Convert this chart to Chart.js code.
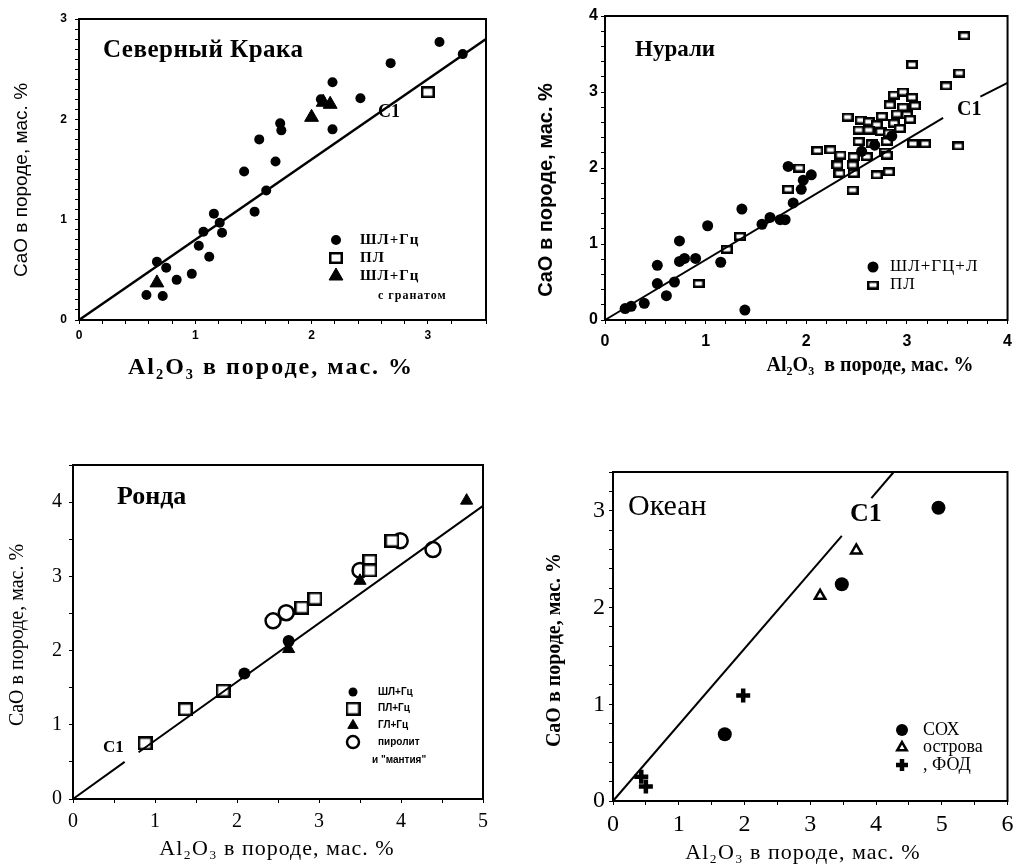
<!DOCTYPE html>
<html>
<head>
<meta charset="utf-8">
<script src="https://cdn.jsdelivr.net/npm/chart.js@4.4.1/dist/chart.umd.min.js"></script>
<style>
body{margin:0;background:#fff;width:1022px;height:867px;overflow:hidden;position:relative}
.p{position:absolute}
</style>
</head>
<body>
<div class="p" style="left:0;top:0;width:495px;height:380px"><canvas id="kraka"></canvas></div>
<div class="p" style="left:530px;top:0;width:490px;height:375px"><canvas id="nurali"></canvas></div>
<div class="p" style="left:0;top:440px;width:495px;height:426px"><canvas id="ronda"></canvas></div>
<div class="p" style="left:545px;top:440px;width:474px;height:427px"><canvas id="ocean"></canvas></div>
<script>
// ------------------------------
// Data  (x = Al2O3, y = CaO, мас. %)
// ------------------------------

// Северный Крака
const krakaShlGc = [[0.58,0.25],[0.72,0.24],[0.67,0.58],[0.75,0.52],[0.84,0.40],[0.97,0.46],[1.03,0.74],[1.12,0.63],[1.07,0.88],[1.16,1.06],[1.21,0.97],[1.23,0.87],[1.42,1.48],[1.51,1.08],[1.55,1.80],[1.61,1.29],[1.69,1.58],[1.73,1.96],[1.74,1.89],[2.08,2.20],[2.18,2.37],[2.18,1.90],[2.42,2.21],[2.68,2.56],[3.10,2.77],[3.30,2.65]];
const krakaPl = [[3.0,2.27]];
const krakaShlGcGrt = [[0.67,0.37],[2.0,2.02],[2.1,2.17],[2.16,2.15]];
const krakaC1 = [[0,0],[3.5,2.8]];

// Нурали
const nuraliShl = [[0.20,0.15],[0.26,0.18],[0.39,0.22],[0.61,0.32],[0.52,0.48],[0.69,0.50],[0.52,0.72],[0.74,0.77],[0.79,0.81],[0.90,0.81],[0.74,1.04],[1.02,1.24],[1.15,0.76],[1.36,1.46],[1.39,0.13],[1.56,1.26],[1.64,1.35],[1.74,1.32],[1.79,1.32],[1.87,1.54],[1.82,2.02],[1.95,1.72],[1.97,1.84],[2.05,1.91],[2.55,2.22],[2.68,2.30],[2.85,2.42]];
const nuraliPl = [[0.93,0.48],[1.21,0.93],[1.34,1.10],[1.82,1.72],[1.93,2.00],[2.11,2.23],[2.24,2.24],[2.41,2.67],[2.46,1.71],[2.70,1.91],[2.82,1.95],[3.06,2.32],[3.18,2.32],[3.51,2.29],[3.39,3.08],[3.52,3.25],[3.05,3.36],[3.57,3.74],[2.87,2.96],[2.96,3.00],[3.05,2.93],[2.83,2.83],[2.96,2.80],[3.08,2.82],[2.90,2.71],[3.00,2.70],[3.03,2.64],[2.54,2.63],[2.62,2.61],[2.75,2.68],[2.70,2.57],[2.87,2.59],[2.93,2.52],[2.52,2.50],[2.62,2.50],[2.74,2.48],[2.82,2.46],[2.52,2.35],[2.65,2.32],[2.80,2.35],[2.34,2.17],[2.47,2.15],[2.60,2.15],[2.78,2.21],[2.31,2.04],[2.46,2.04],[2.33,1.93],[2.47,1.93],[2.80,2.17]];
const nuraliC1a = [[0,0],[3.36,2.66]];
const nuraliC1b = [[3.73,2.94],[4.0,3.12]];

// Ронда
const rondaShlGc = [[2.09,1.69],[2.63,2.13]];
const rondaPlGc = [[0.88,0.75],[1.37,1.21],[1.83,1.46],[2.79,2.58],[2.95,2.70],[3.62,3.21],[3.62,3.08],[3.89,3.48]];
const rondaGlGc = [[0.90,0.72],[2.63,2.02],[3.50,2.94],[4.80,4.02]];
const rondaPyrolite = [[2.44,2.40],[2.60,2.51],[3.50,3.08],[3.99,3.48],[4.39,3.36]];
const rondaC1a = [[0,0],[0.63,0.5]];
const rondaC1b = [[0.8,0.63],[5,3.95]];

// Океан
const oceanSox = [[1.70,0.69],[3.48,2.24],[4.95,3.03]];
const oceanIslands = [[3.15,2.12],[3.70,2.59]];
const oceanFod = [[0.43,0.25],[0.50,0.15],[1.98,1.09]];
const oceanC1a = [[0,0],[3.48,2.74]];
const oceanC1b = [[3.93,3.13],[4.27,3.4]];

const xTitle = "Al\u2082O\u2083 в породе, мас. %";
const xTitleWide = "Al\u2082O\u2083  в породе, мас. %";
const yTitle = "CaO в породе, мас. %";

// ------------------------------
// Helpers
// ------------------------------

const SERIF = '"Liberation Serif", "DejaVu Serif", serif';
const SANS = '"Liberation Sans", Arial, sans-serif';

function pts(arr) {
    return arr.map(p => ({ x: p[0], y: p[1] }));
}

// open box marker (wider than tall in the scan)
function boxImg(w, h, lw) {
    const c = document.createElement("canvas");
    c.width = w; c.height = h;
    const g = c.getContext("2d");
    g.fillStyle = "#fff";
    g.fillRect(0, 0, w, h);
    g.strokeStyle = "#000";
    g.lineWidth = lw;
    g.strokeRect(lw / 2, lw / 2, w - lw, h - lw);
    return c;
}

function dots(label, arr, style) {
    return Object.assign({ label: label, data: pts(arr), showLine: false }, style);
}

function c1(arr, w) {
    return { data: pts(arr), showLine: true, borderColor: "#000", borderWidth: w,
             pointRadius: 0, fill: false, clip: false };
}

const filled = r => ({ pointStyle: "circle", pointRadius: r, backgroundColor: "#000", borderColor: "#000", borderWidth: 0 });
const openCircle = (r, w) => ({ pointStyle: "circle", pointRadius: r, backgroundColor: "#fff", borderColor: "#000", borderWidth: w });
const triFilled = r => ({ pointStyle: "triangle", pointRadius: r, backgroundColor: "#000", borderColor: "#000", borderWidth: 1 });
const triOpen = (r, w) => ({ pointStyle: "triangle", pointRadius: r, backgroundColor: "#fff", borderColor: "#000", borderWidth: w });
const box = (w, h, lw) => ({ pointStyle: boxImg(w, h, lw), pointRadius: Math.max(w, h) / 2, backgroundColor: "#fff", borderColor: "#000", borderWidth: 0 });
const cross = (r, w) => ({ pointStyle: "cross", pointRadius: r, backgroundColor: "#000", borderColor: "#000", borderWidth: w });

function axis(min, max, step, size, tickFont, pad) {
    return {
        type: "linear", min: min, max: max,
        afterFit: s => { if (s.isHorizontal()) s.height = size; else s.width = size; },
        ticks: {
            stepSize: step, autoSkip: false, maxTicksLimit: 200, maxRotation: 0,
            color: "#000", font: tickFont, padding: pad,
            callback: v => Math.abs(v - Math.round(v)) < 1e-6 ? Math.round(v) : ""
        },
        grid: { drawOnChartArea: false, color: "#000", tickLength: 4, lineWidth: 1 },
        border: { color: "#000", width: 2 }
    };
}

// ------------------------------
// Frame, labels and legend inside the plot
// ------------------------------

const panelDecor = {
    id: "panelDecor",
    afterDraw(chart, args, o) {
        const ctx = chart.ctx, a = chart.chartArea;
        ctx.save();
        ctx.strokeStyle = "#000";
        ctx.lineWidth = 2;
        ctx.strokeRect(a.left, a.top, a.right - a.left, a.bottom - a.top);

        ctx.fillStyle = "#000";
        ctx.textBaseline = "middle";
        o.texts.forEach(t => {
            ctx.save();
            ctx.font = t.font;
            ctx.letterSpacing = (t.ls || 0) + "px";
            ctx.textAlign = t.align || "left";
            ctx.translate(a.left + t.x, a.top + t.y);
            if (t.rot) ctx.rotate(-Math.PI / 2);
            ctx.fillText(t.text, 0, 0);
            ctx.restore();
        });

        const L = o.legend;
        let row = 0;
        chart.data.datasets.forEach(ds => {
            if (!ds.label) return;
            const y = a.top + L.y + row * L.row;
            ctx.fillStyle = ds.backgroundColor;
            ctx.strokeStyle = ds.borderColor;
            ctx.lineWidth = ds.borderWidth;
            Chart.helpers.drawPoint(ctx, {
                pointStyle: ds.pointStyle, radius: ds.legendRadius || ds.pointRadius,
                borderWidth: ds.borderWidth, rotation: 0
            }, a.left + L.sx, y);
            ctx.fillStyle = "#000";
            ctx.font = L.font;
            ctx.letterSpacing = (L.ls || 0) + "px";
            ctx.textAlign = "left";
            ctx.fillText(ds.label, a.left + L.tx, y);
            row++;
        });
        ctx.restore();
    }
};

function panel(id, cfg) {
    return new Chart(document.getElementById(id), {
        type: "scatter",
        data: { datasets: cfg.datasets },
        options: {
            responsive: true,
            maintainAspectRatio: false,
            animation: false,
            events: [],
            layout: { padding: { top: cfg.padTop, right: cfg.padRight, left: 0, bottom: 0 } },
            plugins: { legend: { display: false }, tooltip: { enabled: false }, panelDecor: cfg.decor },
            scales: { x: cfg.x, y: cfg.y }
        },
        plugins: [panelDecor]
    });
}

// ------------------------------
// Северный Крака
// ------------------------------

panel("kraka", {
    padTop: 19, padRight: 5,
    x: axis(0, 3.5, 0.2, 60, { family: SANS, size: 12, weight: "bold" }, 4),
    y: axis(0, 3, 0.1, 79, { family: SANS, size: 12, weight: "bold" }, 8),
    datasets: [
        c1(krakaC1, 2.5),
        dots("ШЛ+Гц", krakaShlGc, filled(5)),
        dots("ПЛ", krakaPl, box(14, 12, 2.5)),
        dots("ШЛ+Гц", krakaShlGcGrt, triFilled(8))
    ],
    decor: {
        texts: [
            { text: "Северный Крака", x: 24, y: 32, font: "bold 25px " + SERIF, ls: 0.5 },
            { text: "C1", x: 299, y: 93, font: "bold 18px " + SERIF },
            { text: "с гранатом", x: 299, y: 277, font: "bold 12px " + SERIF, ls: 1 },
            { text: yTitle, x: -57, y: 161, rot: true, align: "center", font: "19px " + SANS },
            { text: xTitle, x: 192, y: 349, align: "center", font: "bold 24px " + SERIF, ls: 2 }
        ],
        legend: { sx: 257, tx: 281, y: 221, row: 18, font: "bold 15px " + SERIF, ls: 1 }
    }
});

// ------------------------------
// Нурали
// ------------------------------

panel("nurali", {
    padTop: 16, padRight: 8,
    x: axis(0, 4, 0.2, 55, { family: SANS, size: 16, weight: "bold" }, 8),
    y: axis(0, 4, 0.2, 75, { family: SANS, size: 16, weight: "bold" }, 3),
    datasets: [
        c1(nuraliC1a, 2),
        c1(nuraliC1b, 2),
        dots("ШЛ+ГЦ+Л", nuraliShl, filled(5.5)),
        dots("ПЛ", nuraliPl, box(12, 9, 2.5))
    ],
    decor: {
        texts: [
            { text: "Нурали", x: 30, y: 34, font: "bold 23px " + SERIF },
            { text: "C1", x: 352, y: 94, font: "bold 20px " + SERIF },
            { text: yTitle, x: -59, y: 174, rot: true, align: "center", font: "bold 20px " + SANS },
            { text: xTitleWide, x: 265, y: 350, align: "center", font: "bold 20px " + SERIF }
        ],
        legend: { sx: 268, tx: 285, y: 251, row: 18, font: "17px " + SERIF, ls: 1 }
    }
});

// ------------------------------
// Ронда
// ------------------------------

panel("ronda", {
    padTop: 25, padRight: 12,
    x: axis(0, 5, 0.5, 67, { family: SERIF, size: 20 }, 7),
    y: axis(0, 4.5, 0.5, 73, { family: SERIF, size: 20 }, 7),
    datasets: [
        c1(rondaC1a, 2),
        c1(rondaC1b, 2),
        dots("ШЛ+Гц", rondaShlGc, Object.assign(filled(6), { legendRadius: 4.5 })),
        dots("ПЛ+Гц", rondaPlGc, Object.assign(box(15, 14, 2.5), { legendRadius: 6 })),
        dots("ГЛ+Гц", rondaGlGc, Object.assign(triFilled(7), { legendRadius: 6 })),
        dots("пиролит", rondaPyrolite, Object.assign(openCircle(7.5, 2.5), { legendRadius: 6 }))
    ],
    decor: {
        texts: [
            { text: "Ронда", x: 44, y: 32, font: "bold 26px " + SERIF },
            { text: "C1", x: 30, y: 283, font: "bold 17px " + SERIF },
            { text: "и \"мантия\"", x: 299, y: 295, font: "bold 10px " + SANS },
            { text: yTitle, x: -55, y: 170, rot: true, align: "center", font: "20px " + SERIF },
            { text: xTitle, x: 204, y: 384, align: "center", font: "22px " + SERIF, ls: 1 }
        ],
        legend: { sx: 280, tx: 305, y: 227, row: 16.7, font: "bold 10px " + SANS }
    }
});

// ------------------------------
// Океан
// ------------------------------

panel("ocean", {
    padTop: 32, padRight: 6,
    x: axis(0, 6, 0.5, 66, { family: SERIF, size: 24 }, 5),
    y: axis(0, 3.4, 0.2, 68, { family: SERIF, size: 24 }, 4),
    datasets: [
        c1(oceanC1a, 2),
        c1(oceanC1b, 2),
        dots("СОХ", oceanSox, Object.assign(filled(7), { legendRadius: 6 })),
        dots("острова", oceanIslands, Object.assign(triOpen(6, 2.5), { legendRadius: 5.5 })),
        dots(", ФОД", oceanFod, Object.assign(cross(7, 4.5), { legendRadius: 6 }))
    ],
    decor: {
        texts: [
            { text: "Океан", x: 15, y: 35, font: "30px " + SERIF },
            { text: "C1", x: 237, y: 42, font: "bold 26px " + SERIF },
            { text: yTitle, x: -58, y: 178, rot: true, align: "center", font: "bold 20px " + SERIF },
            { text: xTitle, x: 190, y: 381, align: "center", font: "22px " + SERIF, ls: 1 }
        ],
        legend: { sx: 289, tx: 310, y: 258, row: 17.5, font: "18px " + SERIF }
    }
});
</script>
</body>
</html>
